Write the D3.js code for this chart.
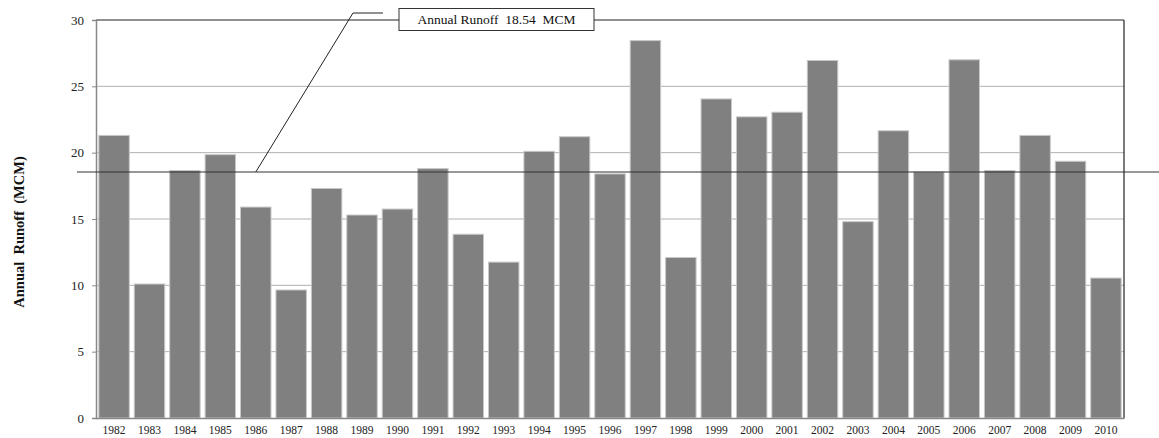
<!DOCTYPE html>
<html>
<head>
<meta charset="utf-8">
<script src="https://cdn.jsdelivr.net/npm/d3@7"></script>
<style>
  body { margin: 0; background: #fff; }
</style>
</head>
<body>
<div id="chart"></div>
<script>
// annual runoff per year (MCM)
const years = ['1982','1983','1984','1985','1986','1987','1988','1989','1990','1991',
  '1992','1993','1994','1995','1996','1997','1998','1999','2000','2001',
  '2002','2003','2004','2005','2006','2007','2008','2009','2010'];
const runoff = [21.3, 10.1, 18.65, 19.85, 15.9, 9.65, 17.3, 15.3, 15.75, 18.8,
  13.85, 11.75, 20.1, 21.2, 18.4, 28.45, 12.1, 24.05, 22.7, 23.05,
  26.95, 14.8, 21.65, 18.55, 27.0, 18.65, 21.3, 19.35, 10.55];
const yTicks = [0, 5, 10, 15, 20, 25, 30];
const meanValue = 18.54;
const meanLabel = 'Annual Runoff  18.54  MCM';
const yTitle = 'Annual  Runoff  (MCM)';

const serif = '"Liberation Serif", "Times New Roman", serif';

document.addEventListener('DOMContentLoaded', function() {
  const width = 1159, height = 438;
  const margin = { top: 20, right: 35, bottom: 20, left: 96 };

  const svg = d3.select('#chart')
    .append('svg')
    .attr('width', width)
    .attr('height', height)
    .style('font-family', serif);

  const x = d3.scaleBand()
    .domain(years)
    .range([margin.left, width - margin.right])
    .paddingInner(0.14)
    .paddingOuter(0.08);

  const y = d3.scaleLinear()
    .domain([0, 30])
    .range([height - margin.bottom, margin.top]);

  // gridlines
  svg.append('g')
    .selectAll('line')
    .data(yTicks.filter(d => d > 0 && d < 30))
    .join('line')
    .attr('x1', margin.left)
    .attr('x2', width - margin.right)
    .attr('y1', d => y(d))
    .attr('y2', d => y(d))
    .attr('stroke', '#b0b0b0')
    .attr('stroke-width', 1);

  // bars
  svg.append('g')
    .selectAll('rect')
    .data(runoff)
    .join('rect')
    .attr('x', (d, i) => x(years[i]))
    .attr('y', d => y(d))
    .attr('width', x.bandwidth())
    .attr('height', d => y(0) - y(d))
    .attr('fill', '#808080')
    .attr('stroke', '#c8c8c8')
    .attr('stroke-width', 1);

  // frame: top and right black
  svg.append('line')
    .attr('x1', margin.left).attr('x2', width - margin.right)
    .attr('y1', y(30)).attr('y2', y(30))
    .attr('stroke', '#222').attr('stroke-width', 1.2);
  svg.append('line')
    .attr('x1', width - margin.right).attr('x2', width - margin.right)
    .attr('y1', y(30)).attr('y2', y(0))
    .attr('stroke', '#222').attr('stroke-width', 1.2);

  // y axis
  const yAxis = svg.append('g')
    .attr('transform', `translate(${margin.left},0)`)
    .call(d3.axisLeft(y).tickValues(yTicks).tickSize(4).tickPadding(8));
  yAxis.attr('font-family', null);
  yAxis.select('.domain').attr('stroke', '#888').attr('stroke-width', 1.5);
  yAxis.selectAll('.tick line').attr('stroke', '#888');
  yAxis.selectAll('text')
    .attr('font-size', 13)
    .attr('fill', '#222');

  // x axis
  const xAxis = svg.append('g')
    .attr('transform', `translate(0,${y(0)})`)
    .call(d3.axisBottom(x).tickSize(0).tickPadding(8));
  xAxis.attr('font-family', null);
  xAxis.select('.domain').attr('stroke', '#888').attr('stroke-width', 1.5);
  xAxis.selectAll('text')
    .attr('font-size', 11.5)
    .attr('fill', '#222');

  // mean line
  svg.append('line')
    .attr('x1', 77).attr('x2', width)
    .attr('y1', y(meanValue)).attr('y2', y(meanValue))
    .attr('stroke', '#333').attr('stroke-width', 1.1);

  // callout
  const lx = x('1986') + x.bandwidth() / 2;
  svg.append('polyline')
    .attr('points', [[lx, y(meanValue)], [353, 13], [383, 13]].map(p => p.join(',')).join(' '))
    .attr('fill', 'none')
    .attr('stroke', '#222')
    .attr('stroke-width', 1);
  svg.append('rect')
    .attr('x', 399).attr('y', 8.5)
    .attr('width', 195).attr('height', 22)
    .attr('fill', '#fff')
    .attr('stroke', '#333')
    .attr('stroke-width', 1);
  svg.append('text')
    .attr('x', 496.5).attr('y', 24)
    .attr('text-anchor', 'middle')
    .attr('font-size', 13.5)
    .attr('fill', '#111')
    .style('white-space', 'pre')
    .text(meanLabel);

  // y title
  svg.append('text')
    .attr('transform', `translate(24,232) rotate(-90)`)
    .attr('text-anchor', 'middle')
    .attr('font-size', 14.5)
    .attr('font-weight', 'bold')
    .attr('fill', '#111')
    .style('white-space', 'pre')
    .text(yTitle);
});
</script>
</body>
</html>
